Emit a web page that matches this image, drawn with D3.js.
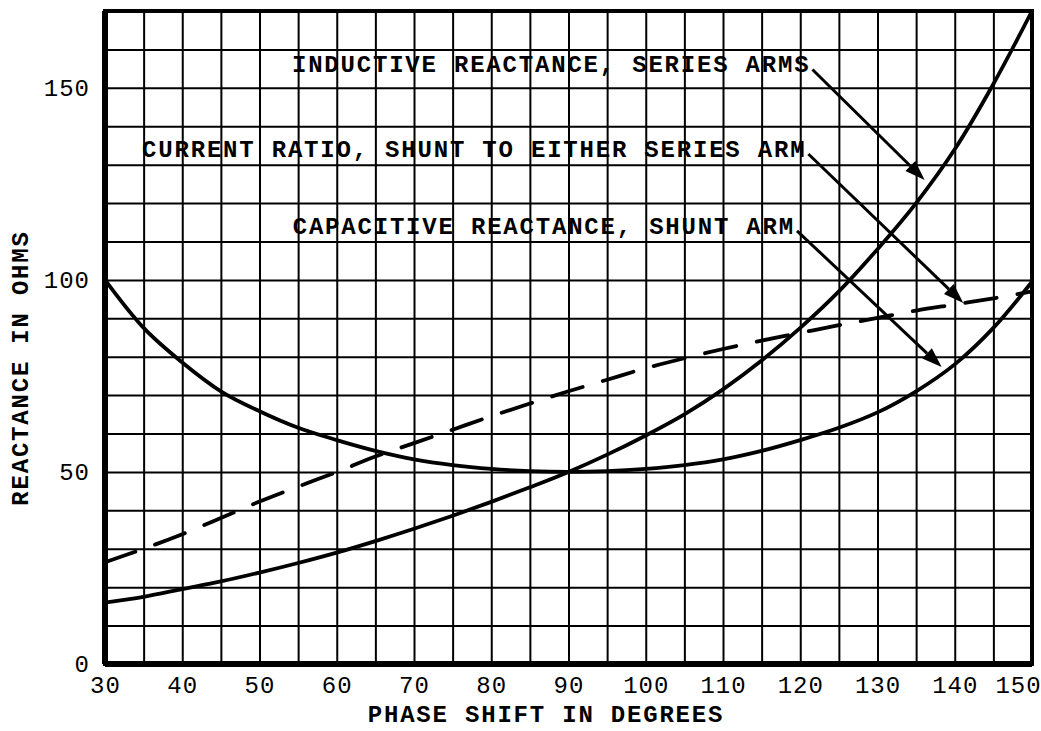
<!doctype html>
<html lang="en">
<head>
  <meta charset="utf-8">
  <title>Phase shift network reactances</title>
  <style>
    body { margin: 0; background: #fff; }
    svg { display: block; }
    .grid line { stroke: #000; stroke-width: 2; }
    .grid .domain { display: none; }
    .ticks .domain { display: none; }
    .ticks text { font-family: "Liberation Mono", monospace; font-size: 24px; fill: #000; letter-spacing: 1px; }
    .label { font-family: "Liberation Mono", monospace; font-weight: bold; font-size: 24px; letter-spacing: 1.8px; fill: #000; }
    .curve { fill: none; stroke: #000; stroke-width: 3.8; stroke-linecap: round; }
  </style>
</head>
<body>
  <div id="chart"></div>

  <script src="https://cdn.jsdelivr.net/npm/d3@7"></script>
  <script>
  (function(){

    // phase shift in degrees (every 5 degrees)
    var phase = [30, 35, 40, 45, 50, 55, 60, 65, 70, 75, 80, 85, 90,
                 95, 100, 105, 110, 115, 120, 125, 130, 135, 140, 145, 150];
    // inductive reactance, series arms (ohms)
    var inductive = [16, 17.5, 19.5, 21.5, 23.8, 26.3, 29, 32, 35.2, 38.6, 42.2, 46, 50,
                     54.5, 59.5, 65, 71.5, 79, 87.5, 97, 108, 120, 134, 151, 170];
    // capacitive reactance, shunt arm (ohms)
    var capacitive = [100, 87.5, 78.5, 71, 65.8, 61.5, 58.3, 55.5, 53.3, 51.8, 50.8, 50.2, 50,
                      50.2, 50.8, 51.8, 53.3, 55.5, 58.3, 61.5, 65.5, 71, 78, 87.5, 99.5];
    // current ratio, shunt to either series arm (dashed)
    var currentRatio = [26.5, 30, 33.8, 38, 42.3, 46.2, 50, 54, 57.5, 61, 64.5, 67.8, 71,
                        74, 77, 79.6, 82, 84.2, 86.2, 88.2, 90.1, 92, 93.6, 95.2, 97];

    var xTicks = [30, 40, 50, 60, 70, 80, 90, 100, 110, 120, 130, 140, 150];
    var yTicks = [0, 50, 100, 150];

    // callouts: text, where the text starts, and where its arrow points
    var labelText = ["INDUCTIVE REACTANCE, SERIES ARMS",
                     "CURRENT RATIO, SHUNT TO EITHER SERIES ARM",
                     "CAPACITIVE REACTANCE, SHUNT ARM"];
    var labelX = [54.2, 34.8, 54.3];
    var labelY = [154, 132, 112];
    var tipX = [136.1, 141.1, 138.3];
    var tipY = [126, 94, 77.3];

    var width = 1041, height = 731;
    var x = d3.scaleLinear().domain([30, 150]).range([105, 1032]);
    var y = d3.scaleLinear().domain([0, 170]).range([664, 11]);

    var svg = d3.select("#chart").append("svg")
        .attr("width", width)
        .attr("height", height);

    // grid, 5 degrees by 10 ohms
    svg.append("g").attr("class", "grid")
        .attr("transform", "translate(0," + y(0) + ")")
        .call(d3.axisBottom(x).tickValues(d3.range(35, 150, 5))
          .tickSize(-(y(0) - y(170))).tickFormat(""));
    svg.append("g").attr("class", "grid")
        .attr("transform", "translate(" + x(30) + ",0)")
        .call(d3.axisLeft(y).tickValues(d3.range(10, 170, 10))
          .tickSize(-(x(150) - x(30))).tickFormat(""));

    // heavy frame
    svg.append("rect")
        .attr("x", x(30)).attr("y", y(170))
        .attr("width", x(150) - x(30)).attr("height", y(0) - y(170))
        .attr("fill", "none").attr("stroke", "#000").attr("stroke-width", 4);
    svg.append("line")
        .attr("x1", x(30)).attr("x2", x(30)).attr("y1", y(170)).attr("y2", y(0))
        .attr("stroke", "#000").attr("stroke-width", 6);
    svg.append("line")
        .attr("x1", x(30)).attr("x2", x(150)).attr("y1", y(0)).attr("y2", y(0))
        .attr("stroke", "#000").attr("stroke-width", 6);

    // tick labels
    var xAxis = svg.append("g").attr("class", "ticks")
        .attr("transform", "translate(0," + y(0) + ")")
        .call(d3.axisBottom(x).tickValues(xTicks).tickSize(0).tickPadding(12));
    // last label sits at the right edge of the page, pull it in
    xAxis.selectAll(".tick text").filter(function(d) { return d === 150; })
        .attr("dx", -14);
    svg.append("g").attr("class", "ticks")
        .attr("transform", "translate(" + (x(30) - 15) + ",0)")
        .call(d3.axisLeft(y).tickValues(yTicks).tickSize(0).tickPadding(0));

    // curves
    var line = function(vals) {
      return d3.line()
        .x(function(d, i) { return x(phase[i]); })
        .y(function(d) { return y(d); })
        .curve(d3.curveCatmullRom)(vals);
    };
    svg.append("path").attr("class", "curve").attr("d", line(capacitive));
    svg.append("path").attr("class", "curve").attr("d", line(inductive));
    svg.append("path").attr("class", "curve")
        .attr("stroke-dasharray", "32,21")
        .attr("stroke-linecap", "butt")
        .attr("d", line(currentRatio));

    // callout labels with arrows
    labelText.forEach(function(t, i) {
      var tx = x(labelX[i]), ty = y(labelY[i]);
      var txt = svg.append("text").attr("class", "label")
          .attr("x", tx).attr("y", ty).text(t);
      var ex = tx + txt.node().getComputedTextLength() + 2, ey = ty - 3;
      var px = x(tipX[i]), py = y(tipY[i]);
      var ang = Math.atan2(py - ey, px - ex);
      var len = 20, half = 7;
      var bx = px - len * Math.cos(ang), by = py - len * Math.sin(ang);
      svg.append("line")
          .attr("x1", ex).attr("y1", ey).attr("x2", bx).attr("y2", by)
          .attr("stroke", "#000").attr("stroke-width", 3);
      svg.append("path")
          .attr("d", "M" + px + "," + py +
                "L" + (bx + half * Math.sin(ang)) + "," + (by - half * Math.cos(ang)) +
                "L" + (bx - half * Math.sin(ang)) + "," + (by + half * Math.cos(ang)) + "Z")
          .attr("fill", "#000");
    });

    // axis titles
    svg.append("text").attr("class", "label")
        .attr("x", 546).attr("y", 722)
        .attr("text-anchor", "middle")
        .text("PHASE SHIFT IN DEGREES");
    svg.append("text").attr("class", "label")
        .attr("transform", "translate(28,368) rotate(-90)")
        .attr("text-anchor", "middle")
        .text("REACTANCE IN OHMS");

  })();
  </script>
</body>
</html>
